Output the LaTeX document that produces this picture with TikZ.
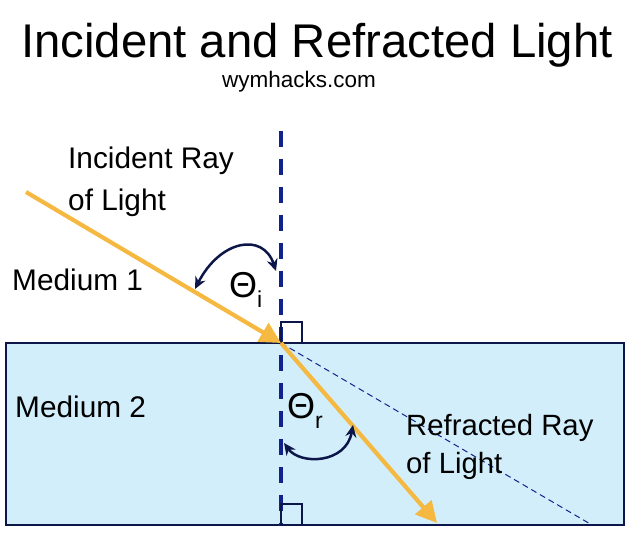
\documentclass[tikz,border=0pt]{standalone}
\usepackage{fontspec}
\setmainfont{Liberation Sans}
\usetikzlibrary{arrows.meta}
\definecolor{mediumfill}{RGB}{210,238,251}
\definecolor{navy}{RGB}{12,22,72}
\definecolor{normalblue}{RGB}{18,34,140}
\definecolor{rayorange}{RGB}{245,185,66}
\tikzset{
  lbl/.style={anchor=base west, inner sep=0pt, font=\fontsize{29.8}{33}\selectfont},
  ray/.style={draw=rayorange, line width=4.2pt, -{Triangle[length=21pt,width=21pt]}},
  anglearc/.style={draw=navy, line width=2.5pt, {Stealth[length=12pt,width=11pt]}-{Stealth[length=12pt,width=11pt]}},
  rightbox/.style={draw=navy, line width=2pt},
  theta/.style={anchor=base west, inner sep=0pt, font=\fontsize{36}{40}\selectfont}
}
\begin{document}
\begin{tikzpicture}[x=1pt,y=-1pt]
\useasboundingbox (0,0) rectangle (637,539);
% medium 2
\fill[mediumfill] (6,343) rectangle (624,525);
\draw[navy, line width=2.2pt] (6,343) rectangle (624,525);
% key points
\coordinate (src) at (26,192);
\coordinate (hit) at (281,343);
\coordinate (dst) at (437,523);
\coordinate (ext) at (592,525);
\coordinate (ntop) at (281,131);
\coordinate (nbot) at (281,526);
% normal line
\draw[normalblue, line width=3.5pt, dash pattern=on 16pt off 12pt] (ntop) -- (nbot);
% extension of incident ray
\draw[normalblue, line width=1pt, dash pattern=on 6pt off 4pt] (hit) -- (ext);
% right angle boxes
\draw[rightbox] (281,322) rectangle (302,343);
\draw[rightbox] (281,504) rectangle (302,525);
% rays
\draw[ray] (src) -- (hit);
\draw[ray] (hit) -- (dst);
% angle arcs
\draw[anglearc] (195,289) .. controls (220,240) and (263,232) .. (276,271);
\draw[anglearc] (284,443) .. controls (300,465) and (346,464) .. (353,425);
% labels
\node[theta] (ti) at (229,297) {Θ\raisebox{-10pt}{\fontsize{23}{26}\selectfont i}};
\node[theta] (tr) at (287,418) {Θ\raisebox{-10pt}{\fontsize{23}{26}\selectfont r}};
\node[lbl] (inc1) at (68,168) {Incident Ray};
\node[lbl] (inc2) at (68,210) {of Light};
\node[lbl] (m1) at (12,290) {Medium 1};
\node[lbl] (m2) at (15,417) {Medium 2};
\node[lbl, font=\fontsize{29.3}{33}\selectfont] (ref1) at (406,435) {Refracted Ray};
\node[lbl, font=\fontsize{29.3}{33}\selectfont] (ref2) at (406,473) {of Light};
\node[anchor=base, inner sep=0pt, font=\fontsize{47.3}{52}\selectfont] (title) at (317,57) {Incident and Refracted Light};
\node[anchor=base, inner sep=0pt, font=\fontsize{22.5}{26}\selectfont] (site) at (299,87) {wymhacks.com};
\end{tikzpicture}
\end{document}
